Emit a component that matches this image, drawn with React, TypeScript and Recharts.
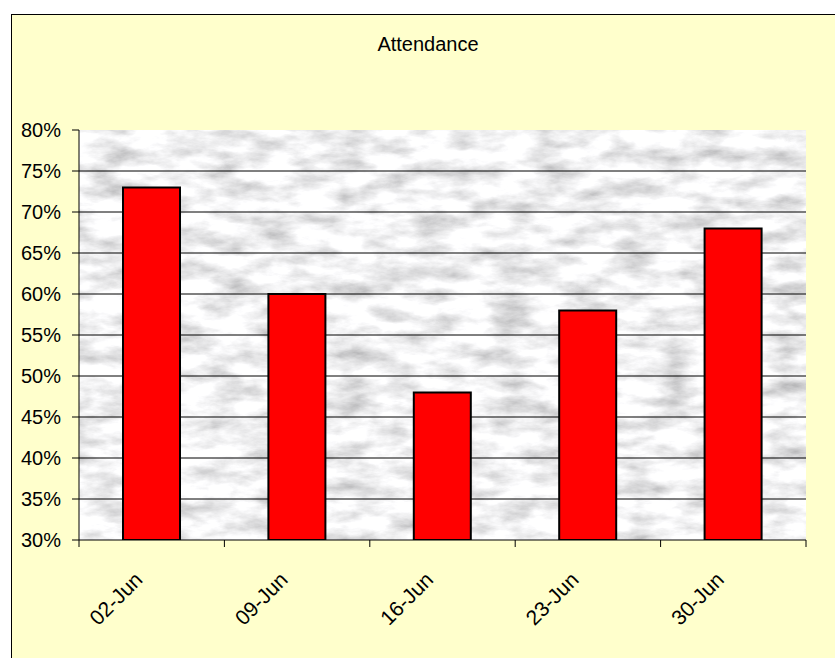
import React from "react";
import { BarChart, Bar, XAxis, YAxis, CartesianGrid } from "recharts";

const dates = ["02-Jun", "09-Jun", "16-Jun", "23-Jun", "30-Jun"];
const attendance = [73, 60, 48, 58, 68];
const yTicks = [30, 35, 40, 45, 50, 55, 60, 65, 70, 75, 80];

const data = dates.map((d, i) => ({ date: d, value: attendance[i] }));

const W = 823;
const H = 643;
const MARGIN = { top: 115, right: 29, bottom: 28, left: 7 };
const Y_W = 60;
const PLOT_W = W - MARGIN.left - MARGIN.right - Y_W;
const BAND = PLOT_W / dates.length;
const FONT = "'Liberation Sans', Arial, sans-serif";

function XTick(props: any) {
  const { x, y, payload, index } = props;
  const half = BAND / 2;
  const last = index === dates.length - 1;
  return (
    <g>
      <line x1={x - half} x2={x - half} y1={y} y2={y + 7} stroke="#000" />
      {last && <line x1={x + half} x2={x + half} y1={y} y2={y + 7} stroke="#000" />}
      <text
        x={x - 8}
        y={y + 41}
        transform={`rotate(-45, ${x - 8}, ${y + 41})`}
        textAnchor="end"
        fontSize={21}
        fontFamily={FONT}
        fill="#000"
      >
        {payload.value}
      </text>
    </g>
  );
}

export default function App() {
  return (
    <>
      <svg width={0} height={0} style={{ position: "absolute" }}>
        <defs>
          <filter id="marbleF" x="0" y="0" width="100%" height="100%">
            <feTurbulence type="fractalNoise" baseFrequency="0.025 0.06" numOctaves={5} seed={11} />
            <feColorMatrix
              type="matrix"
              values="0.95 0 0 0 0.41  0.95 0 0 0 0.41  0.95 0 0 0 0.42  0 0 0 0 1"
            />
          </filter>
          <pattern id="marble" patternUnits="userSpaceOnUse" width={900} height={700}>
            <rect width={900} height={700} fill="#ddd" filter="url(#marbleF)" />
          </pattern>
        </defs>
      </svg>
      <div
        style={{
          position: "absolute",
          left: 11,
          top: 14,
          width: W,
          height: H,
          background: "#FFFFCC",
          borderLeft: "1px solid #000",
          borderTop: "1px solid #000",
        }}
      >
        <div
          style={{
            position: "absolute",
            left: 0,
            top: 18,
            width: 832,
            textAlign: "center",
            fontFamily: FONT,
            fontSize: 20,
            color: "#000",
          }}
        >
          Attendance
        </div>
        <BarChart width={W} height={H} data={data} margin={MARGIN}>
          <CartesianGrid
            vertical={false}
            horizontalValues={yTicks.slice(1, -1)}
            stroke="#000"
            strokeWidth={1}
            fill="url(#marble)"
            fillOpacity={1}
          />
          <XAxis
            dataKey="date"
            height={90}
            tickSize={0}
            tickMargin={0}
            axisLine={{ stroke: "#000" }}
            tickLine={false}
            interval={0}
            tick={(p: any) => <XTick {...p} />}
          />
          <YAxis
            width={Y_W}
            domain={[30, 80]}
            ticks={yTicks}
            interval={0}
            allowDataOverflow
            tickSize={7}
            tickMargin={11}
            axisLine={{ stroke: "#000" }}
            tickLine={{ stroke: "#000" }}
            tickFormatter={(v: number) => `${v}%`}
            tick={{ fontSize: 20, fontFamily: FONT, fill: "#000" }}
          />
          <Bar
            dataKey="value"
            fill="#FF0000"
            stroke="#000"
            strokeWidth={2}
            barSize={57}
            isAnimationActive={false}
          />
        </BarChart>
      </div>
    </>
  );
}
